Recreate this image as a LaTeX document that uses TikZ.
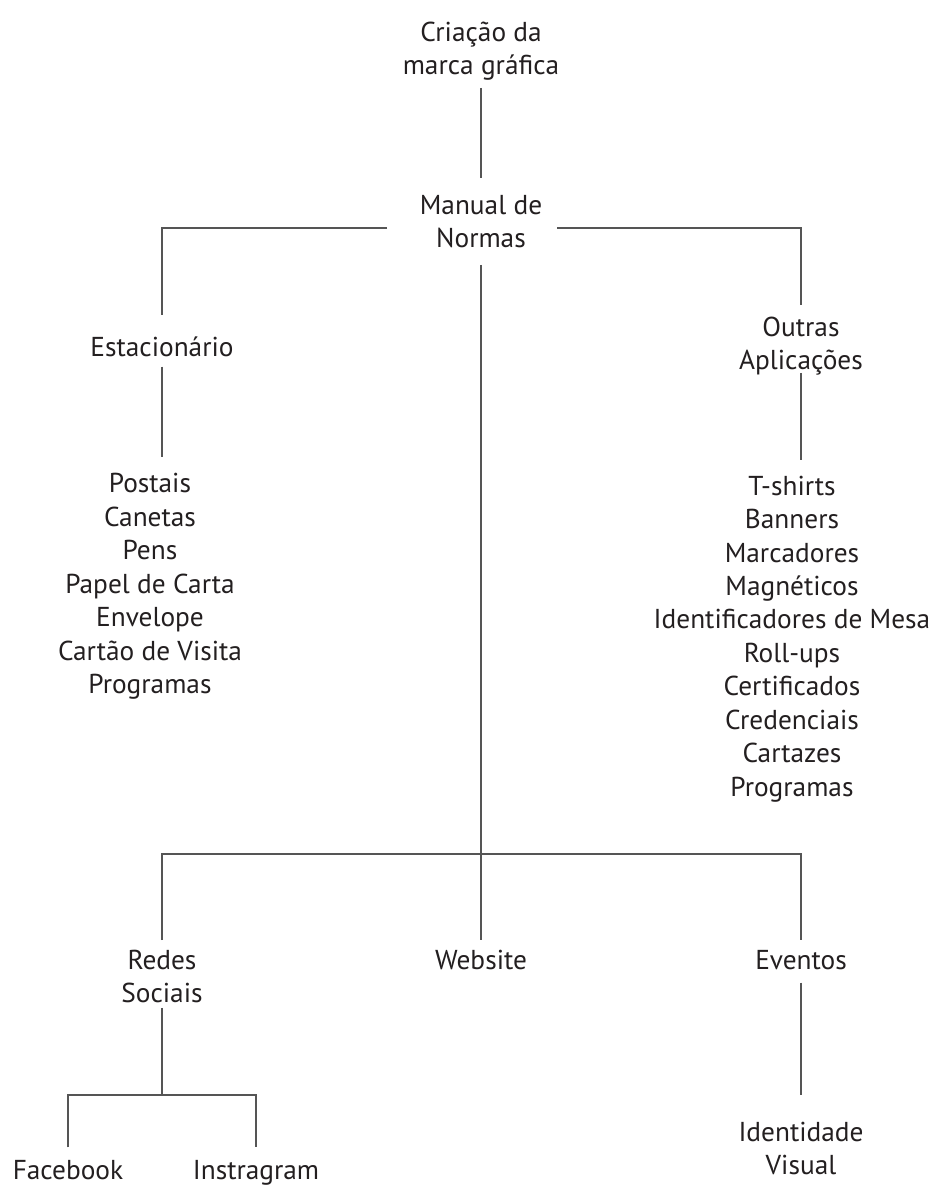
\documentclass[tikz,border=0pt]{standalone}
\usepackage{fontspec}
\setmainfont{PT Sans}
\definecolor{txt}{HTML}{231F20}
\definecolor{ln}{HTML}{555555}
\begin{document}
\begin{tikzpicture}[x=0.75pt,y=-0.75pt,
  lbl/.style={inner sep=0pt, outer sep=0pt, align=center, text=txt,
    font=\fontsize{20.5pt}{25.1pt}\selectfont},
  conn/.style={draw=ln, line width=1pt}]
\useasboundingbox[fill=white] (0,0) rectangle (932,1185);
% nodes
\node[lbl] (top) at (481,51.5) {Criação da\strut\\marca gráfica\strut};
\node[lbl] (manual) at (481,224.5) {Manual de\strut\\Normas\strut};
\node[lbl] (estac) at (162,350) {Estacionário\strut};
\node[lbl] (outras) at (801,346.5) {Outras\strut\\Aplicações\strut};
\node[lbl] (stlist) at (150,586.5) {Postais\strut\\Canetas\strut\\Pens\strut\\Papel de Carta\strut\\Envelope\strut\\Cartão de Visita\strut\\Programas\strut};
\node[lbl] (oalist) at (792,639) {T-shirts\strut\\Banners\strut\\Marcadores\strut\\Magnéticos\strut\\Identificadores de Mesa\strut\\Roll-ups\strut\\Certificados\strut\\Credenciais\strut\\Cartazes\strut\\Programas\strut};
\node[lbl] (redes) at (162,979.5) {Redes\strut\\Sociais\strut};
\node[lbl] (website) at (481,963) {Website\strut};
\node[lbl] (eventos) at (801,963) {Eventos\strut};
\node[lbl] (ident) at (801,1151.5) {Identidade\strut\\Visual\strut};
\node[lbl] (fb) at (68,1173) {Facebook\strut};
\node[lbl] (insta) at (256,1173) {Instragram\strut};
\coordinate (bar) at (481,854);
\coordinate (sbar) at (162,1095);
% connectors
\draw[conn, shorten <=2.25pt, shorten >=9.75pt] (top) -- (manual);
\draw[conn] ([shift={(-70.5pt,-2.6pt)}]manual.center) -| ([yshift=13.7pt]estac.north);
\draw[conn] ([shift={(57pt,-2.6pt)}]manual.center) -| ([yshift=6pt]outras.north);
\draw[conn] (estac.south) -- ([yshift=9pt]estac.south |- stlist.north);
\draw[conn] ([yshift=5.25pt]outras.south) -- ([yshift=8.6pt]outras.south |- oalist.north);
\draw[conn, shorten <=5.25pt, shorten >=4.5pt] (manual) -- (website);
\draw[conn] ([yshift=4.5pt]redes.north) |- (bar) -| ([yshift=4.5pt]eventos.north);
\draw[conn] ([yshift=3.75pt]redes.south) -- (sbar);
\draw[conn] ([yshift=6.75pt]fb.north) |- (sbar) -| ([yshift=6.75pt]insta.north);
\draw[conn] ([yshift=-2.25pt]eventos.south) -- ([yshift=17.25pt]ident.north);
\end{tikzpicture}
\end{document}
